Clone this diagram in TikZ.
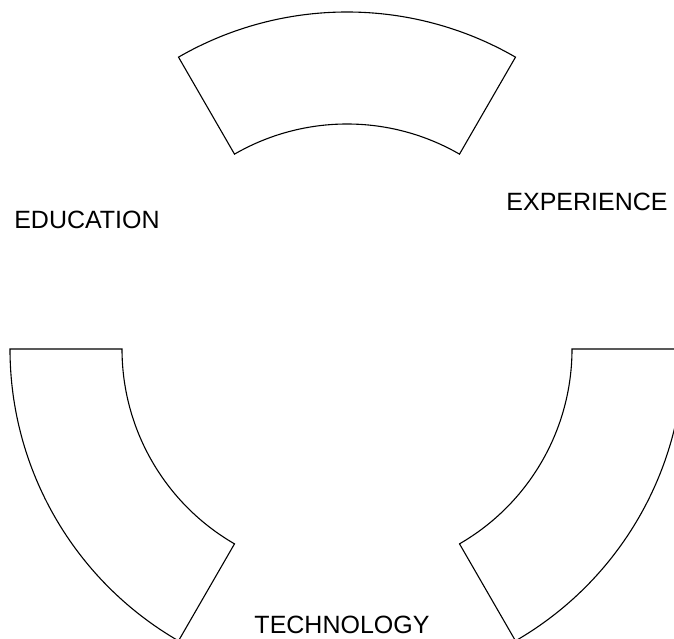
\documentclass[tikz,border=0pt]{standalone}
\usepackage{fontspec}
\setmainfont{Liberation Sans}
\usepackage{tikz}
\usetikzlibrary{calc}
\begin{document}
\begin{tikzpicture}[x=1pt, y=1pt, sector/.style={draw, line width=1.1pt}, label/.style={inner sep=0pt, font=\fontsize{25}{30}\selectfont}]
				
				% Frame
				\clip (0,0) rectangle (674,639);
				\coordinate (c) at (347,290);
				
				% Sectors
				\foreach \a in {60,180,300} {
					\draw[sector] ([shift={(\a:337)}]c) arc[start angle=\a, end angle=\a+60, radius=337]
						-- ([shift={(\a+60:225)}]c) arc[start angle=\a+60, end angle=\a, radius=225] -- cycle;
				}
				
				% Labels
				\node[label] (education) at (87,419) {EDUCATION};
				\node[label] (experience) at (587,437) {EXPERIENCE};
				\node[label] (technology) at (342,14) {TECHNOLOGY};
			\end{tikzpicture}
\end{document}
